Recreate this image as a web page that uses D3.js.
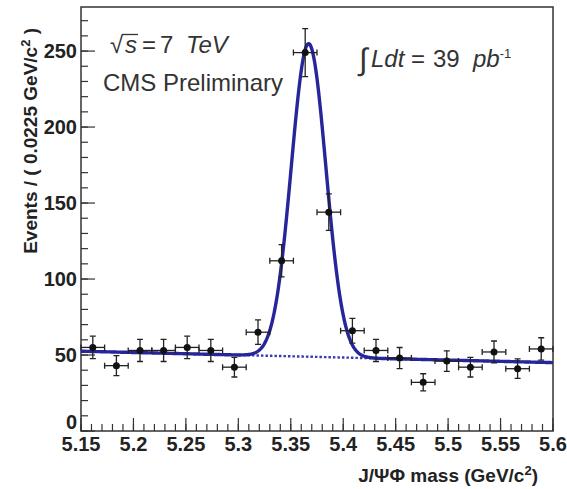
<!DOCTYPE html>
<html>
<head>
<meta charset="utf-8">
<script src="https://cdn.jsdelivr.net/npm/d3@7"></script>
<style>
  body { margin: 0; background: #fff; }
  svg { display: block; }
  .tick-label { font-family: "Liberation Sans", Arial, sans-serif; font-weight: bold; font-size: 20px; fill: #222; }
  .title { font-family: "Liberation Sans", Arial, sans-serif; font-weight: bold; font-size: 19px; fill: #222; }
  .note { font-family: "Liberation Sans", Arial, sans-serif; font-size: 24px; fill: #333; }
</style>
</head>
<body>
<svg id="chart" width="567" height="489"></svg>
<script>
// 20 bins of 0.0225 GeV/c^2 starting at 5.15
const binLow = 5.15;
const binWidth = 0.0225;
const counts = [55, 43, 53, 53, 55, 53, 42, 65, 112, 249, 144, 66, 53, 48, 32, 46, 42, 52, 41, 54];

const xTicks = [5.15, 5.2, 5.25, 5.3, 5.35, 5.4, 5.45, 5.5, 5.55, 5.6];
const xTickLabels = ['5.15', '5.2', '5.25', '5.3', '5.35', '5.4', '5.45', '5.5', '5.55', '5.6'];
const yTicks = [0, 50, 100, 150, 200, 250];

// fit result: gaussian signal on top of a linear background
const bkgStart = 52.5;   // at 5.15
const bkgEnd = 45;       // at 5.6
const sigAmp = 206;
const sigMean = 5.367;
const sigSigma = 0.0165;

const margin = { left: 81, right: 14, top: 7, bottom: 58 };
const width = 567, height = 489;

const svg = d3.select('#chart');

const x = d3.scaleLinear().domain([5.15, 5.6]).range([margin.left, width - margin.right]);
const y = d3.scaleLinear().domain([0, 279]).range([height - margin.bottom, margin.top]);

const bkg = m => bkgStart + (bkgEnd - bkgStart) * (m - 5.15) / 0.45;
const total = m => bkg(m) + sigAmp * Math.exp(-0.5 * Math.pow((m - sigMean) / sigSigma, 2));

const blue = '#26269a';

// axes: ticks pointing inside the frame
const xMinor = d3.range(0, 46).map(i => 5.15 + i * 0.01);
const yMinor = d3.range(0, 28).map(i => i * 10);

const axisG = svg.append('g');
axisG.selectAll('.xminor')
    .data(xMinor)
    .enter()
    .append('line')
    .attr('x1', d => x(d)).attr('x2', d => x(d))
    .attr('y1', y(0)).attr('y2', y(0) - 7)
    .attr('stroke', '#333').attr('stroke-width', 1.2);
axisG.selectAll('.xmajor')
    .data(xTicks)
    .enter()
    .append('line')
    .attr('x1', d => x(d)).attr('x2', d => x(d))
    .attr('y1', y(0)).attr('y2', y(0) - 13)
    .attr('stroke', '#333').attr('stroke-width', 1.2);
axisG.selectAll('.yminor')
    .data(yMinor)
    .enter()
    .append('line')
    .attr('x1', x(5.15)).attr('x2', x(5.15) + 7)
    .attr('y1', d => y(d)).attr('y2', d => y(d))
    .attr('stroke', '#333').attr('stroke-width', 1.2);
axisG.selectAll('.ymajor')
    .data(yTicks)
    .enter()
    .append('line')
    .attr('x1', x(5.15)).attr('x2', x(5.15) + 14)
    .attr('y1', d => y(d)).attr('y2', d => y(d))
    .attr('stroke', '#333').attr('stroke-width', 1.2);

axisG.selectAll('.xlab')
    .data(xTicks)
    .enter()
    .append('text')
    .classed('tick-label', true)
    .attr('x', d => x(d))
    .attr('y', y(0) + 20)
    .attr('text-anchor', 'middle')
    .text((d, i) => xTickLabels[i]);

axisG.selectAll('.ylab')
    .data(yTicks)
    .enter()
    .append('text')
    .classed('tick-label', true)
    .attr('x', x(5.15) - 4)
    .attr('y', d => d === 0 ? y(d) - 2 : y(d) + 7)
    .attr('text-anchor', 'end')
    .text(d => d);

// frame
svg.append('rect')
    .attr('x', margin.left).attr('y', margin.top)
    .attr('width', width - margin.left - margin.right)
    .attr('height', height - margin.top - margin.bottom)
    .attr('fill', 'none').attr('stroke', '#333').attr('stroke-width', 1.5);

// fit curves
const grid = d3.range(0, 901).map(i => 5.15 + i * 0.45 / 900);
const line = d3.line().x(d => x(d[0])).y(d => y(d[1]));

svg.append('path')
    .datum(grid.map(m => [m, bkg(m)]))
    .attr('d', line)
    .attr('fill', 'none')
    .attr('stroke', '#3a3ab0')
    .attr('stroke-width', 2.4)
    .attr('stroke-dasharray', '2.5,2');

svg.append('path')
    .datum(grid.map(m => [m, total(m)]))
    .attr('d', line)
    .attr('fill', 'none')
    .attr('stroke', blue)
    .attr('stroke-width', 3.4);

// data points with errors
const points = counts.map((c, i) => ({ m: binLow + (i + 0.5) * binWidth, n: c }));
const pg = svg.append('g').attr('stroke', '#222').attr('stroke-width', 1.3);
const cap = 3;

pg.selectAll('.ex')
    .data(points)
    .enter()
    .append('line')
    .attr('x1', d => x(d.m - binWidth / 2)).attr('x2', d => x(d.m + binWidth / 2))
    .attr('y1', d => y(d.n)).attr('y2', d => y(d.n));
pg.selectAll('.ey')
    .data(points)
    .enter()
    .append('line')
    .attr('x1', d => x(d.m)).attr('x2', d => x(d.m))
    .attr('y1', d => y(d.n - Math.sqrt(d.n))).attr('y2', d => y(d.n + Math.sqrt(d.n)));
// end caps
pg.selectAll('.caps')
    .data(points)
    .enter()
    .append('path')
    .attr('d', d => {
        const xl = x(d.m - binWidth / 2), xr = x(d.m + binWidth / 2), yc = y(d.n);
        const yt = y(d.n + Math.sqrt(d.n)), yb = y(d.n - Math.sqrt(d.n)), xc = x(d.m);
        return `M${xl},${yc - cap}V${yc + cap}M${xr},${yc - cap}V${yc + cap}` +
            `M${xc - cap},${yt}H${xc + cap}M${xc - cap},${yb}H${xc + cap}`;
    })
    .attr('fill', 'none');

svg.selectAll('.dot')
    .data(points)
    .enter()
    .append('circle')
    .attr('cx', d => x(d.m))
    .attr('cy', d => y(d.n))
    .attr('r', 3.5)
    .attr('fill', '#111');

// titles
svg.append('text')
    .classed('title', true)
    .attr('font-size', 18)
    .attr('transform', 'translate(37,28) rotate(-90)')
    .attr('text-anchor', 'end')
    .html('Events / ( 0.0225 GeV/c<tspan dy="-7" font-size="13">2</tspan><tspan dy="7"> )</tspan>');

svg.append('text')
    .classed('title', true)
    .attr('x', 538)
    .attr('y', 482)
    .attr('text-anchor', 'end')
    .html('J/\u03A8\u03A6 mass (GeV/c<tspan dy="-7" font-size="13">2</tspan><tspan dy="7">)</tspan>');

// annotations
const sq = svg.append('text').classed('note', true).attr('y', 53);
sq.append('tspan').attr('x', 110).text('\u221A');
sq.append('tspan').attr('x', 125).attr('font-style', 'italic').text('s');
sq.append('tspan').attr('x', 142).text('=');
sq.append('tspan').attr('x', 160).text('7');
sq.append('tspan').attr('x', 186).attr('font-style', 'italic').text('TeV');
// radical bar over the s
svg.append('line')
    .attr('x1', 122).attr('x2', 138)
    .attr('y1', 34.5).attr('y2', 34.5)
    .attr('stroke', '#333').attr('stroke-width', 1.3);

svg.append('text').classed('note', true).attr('x', 103).attr('y', 91).text('CMS Preliminary');

const lum = svg.append('text').classed('note', true).attr('font-size', 22).attr('y', 67);
lum.append('tspan').attr('x', 359).attr('font-size', 31).attr('dy', 3).text('\u222B');
lum.append('tspan').attr('x', 371).attr('dy', -3).attr('font-style', 'italic').text('Ldt');
lum.append('tspan').attr('x', 411).text('=');
lum.append('tspan').attr('x', 433).text('39');
lum.append('tspan').attr('x', 473).attr('font-style', 'italic').text('pb');
lum.append('tspan').attr('dy', -9).attr('font-size', 13).text('-1');
</script>
</body>
</html>
